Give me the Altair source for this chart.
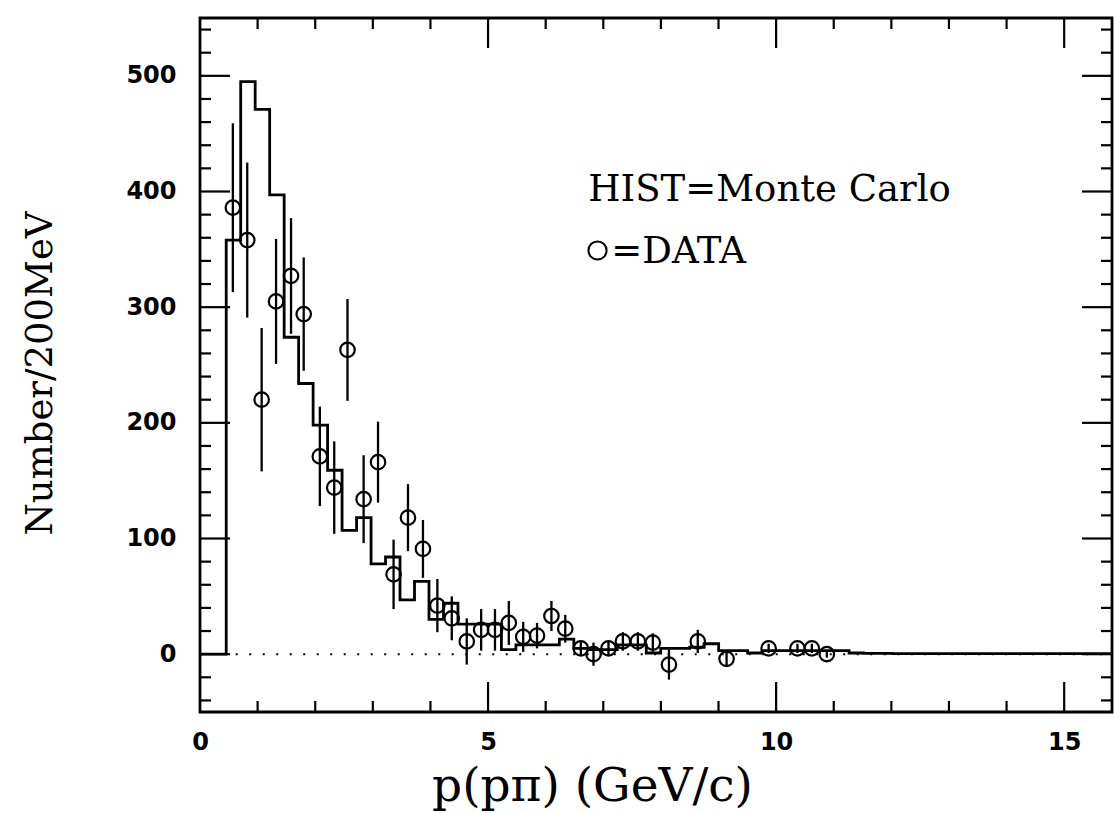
import altair as alt
import pandas as pd

# ---------------- data ----------------
# Monte Carlo histogram: regular bins, counts per bin
HIST_FIRST_EDGE = 0.455
HIST_BIN_WIDTH = 0.2514
hist_counts = [358, 495, 471, 397, 274, 234, 198, 159, 107, 118,
               78, 84, 47, 63, 30, 44, 26, 26, 26, 4,
               8, 8, 8, 13, 5, 4, 4, 8, 8, 1,
               5, 5, 6, 9, 3, 3, 1, 3, 3, 3,
               3, 3, 3, 1, 0.6, 0.6, 0.5, 0.5, 0.5, 0.5,
               0.5, 0.5, 0.5, 0.5, 0.5, 0.5, 0.5, 0.5, 0.5, 0.5,
               0.5, 0.5]

# DATA points with error bars
data_x = [0.57, 0.82, 1.07, 1.32, 1.58, 1.80, 2.08, 2.33, 2.56, 2.84,
          3.09, 3.36, 3.61, 3.87, 4.12, 4.37, 4.63, 4.88, 5.12, 5.36,
          5.61, 5.85, 6.10, 6.34, 6.61, 6.83, 7.09, 7.34, 7.60, 7.86,
          8.14, 8.64, 9.14, 9.87, 10.37, 10.62, 10.88]
data_y = [386, 358, 220, 305, 327, 294, 171, 144, 263, 134,
          166, 69, 118, 91, 42, 31, 11, 21, 21, 27,
          15, 16, 33, 22, 5, 0, 5, 11, 11, 10,
          -9, 11, -4, 5, 5, 5, 0]
data_err = [73, 67, 62, 54, 50, 49, 43, 40, 44, 38,
            35, 30, 29, 25, 23, 19, 20, 18, 18, 19,
            13, 11, 13, 12, 6, 10, 6, 8, 8, 8,
            13, 10, 7, 4, 4, 4, 3]

# axis ticks
x_labels = [0, 5, 10, 15]
x_major = [5, 10, 15]
x_minor = [1, 2, 3, 4, 6, 7, 8, 9, 11, 12, 13, 14]
y_labels = [0, 100, 200, 300, 400, 500]
y_major = [0, 100, 200, 300, 400, 500]
y_minor = [-40, -20, 20, 40, 60, 80, 120, 140, 160, 180, 220, 240, 260, 280,
           320, 340, 360, 380, 420, 440, 460, 480, 520, 540]

X_DOMAIN = [0, 15.83]
Y_DOMAIN = [-50, 550]
W, H = 912, 694

# ---------------- tables ----------------
edges = [HIST_FIRST_EDGE + i * HIST_BIN_WIDTH for i in range(len(hist_counts) + 1)]
hx = [0.0] + edges
hy = [0.0] + hist_counts + [hist_counts[-1]]
hist_df = pd.DataFrame({"x": hx, "y": hy})

pts_df = pd.DataFrame({"x": data_x, "y": data_y,
                       "lo": [v - e for v, e in zip(data_y, data_err)],
                       "hi": [v + e for v, e in zip(data_y, data_err)]})

xs = alt.Scale(domain=X_DOMAIN, nice=False, zero=False)
ys = alt.Scale(domain=Y_DOMAIN, nice=False, zero=False)

XA = alt.Axis(
    values=x_labels, ticks=False, domain=False, grid=False,
    labelFont="DejaVu Sans", labelFontSize=24, labelFontWeight="bold",
    labelColor="black", labelPadding=18, labelFlush=False,
    title="p(pπ) (GeV/c)", titleFont="DejaVu Serif", titleFontSize=47,
    titleFontWeight="normal", titleColor="black",
    titleX=392, titleY=88, titleAlign="center", titleBaseline="alphabetic")
YA = alt.Axis(
    values=y_labels, ticks=False, domain=False, grid=False,
    labelFont="DejaVu Sans", labelFontSize=24, labelFontWeight="bold",
    labelColor="black", labelPadding=24, labelFlush=False,
    title="Number/200MeV", titleFont="DejaVu Serif", titleFontSize=37,
    titleFontWeight="normal", titleColor="black", titleAngle=270,
    titleX=-160, titleY=355, titleAlign="center", titleBaseline="middle")


def X(field):
    return alt.X(field, scale=xs, axis=XA, title="p(pπ) (GeV/c)")


def Y(field):
    return alt.Y(field, scale=ys, axis=YA, title="Number/200MeV")


hist = alt.Chart(hist_df).mark_line(
    interpolate="step-after", color="black", strokeWidth=2.8, clip=True
).encode(x=X("x:Q"), y=Y("y:Q"))

zero_line = alt.Chart(pd.DataFrame({"x": [0.62], "x2": [X_DOMAIN[1]], "y": [0]})).mark_rule(
    color="black", strokeWidth=2, strokeDash=[2, 11.5]
).encode(x=X("x:Q"), x2="x2:Q", y=Y("y:Q"))

bars = alt.Chart(pts_df).mark_rule(color="black", strokeWidth=2.3).encode(
    x=X("x:Q"), y=Y("lo:Q"), y2="hi:Q")

circles = alt.Chart(pts_df).mark_point(
    shape="circle", filled=False, color="black", size=210, strokeWidth=2.2, opacity=1
).encode(x=X("x:Q"), y=Y("y:Q"))


def xticks(vals, length, top):
    df = pd.DataFrame({"v": vals})
    y0, y1 = (0, length) if top else (H, H - length)
    return alt.Chart(df).mark_rule(color="black", strokeWidth=2.2).encode(
        x=X("v:Q"), y=alt.value(y0), y2=alt.value(y1))


def yticks(vals, length, right):
    df = pd.DataFrame({"v": vals})
    x0, x1 = (W, W - length) if right else (0, length)
    return alt.Chart(df).mark_rule(color="black", strokeWidth=2.2).encode(
        y=Y("v:Q"), x=alt.value(x0), x2=alt.value(x1))


ticks = [xticks(x_major, 30, False), xticks(x_minor, 11, False),
         xticks(x_major, 30, True), xticks(x_minor, 11, True),
         yticks(y_major, 30, False), yticks(y_minor, 11, False),
         yticks(y_major, 30, True), yticks(y_minor, 11, True)]

ann_df = pd.DataFrame({"x": [6.74, 7.14], "y": [392, 338],
                       "t": ["HIST=Monte Carlo", "=DATA"]})
ann = alt.Chart(ann_df).mark_text(
    align="left", baseline="alphabetic", font="DejaVu Serif", fontSize=37, color="black"
).encode(x=X("x:Q"), y=Y("y:Q"), text="t:N")

ann_sym = alt.Chart(pd.DataFrame({"x": [6.9], "y": [349]})).mark_point(
    shape="circle", filled=False, color="black", size=330, strokeWidth=2, opacity=1
).encode(x=X("x:Q"), y=Y("y:Q"))

chart = alt.layer(hist, zero_line, bars, circles, *ticks, ann, ann_sym).properties(
    width=W, height=H,
    padding={"left": 200, "top": 18, "right": 2, "bottom": 101},
    autosize=alt.AutoSizeParams(type="none"),
    background="white",
).configure_view(stroke="black", strokeWidth=2.8).configure_axis(grid=False)

chart.save("out.html", embed_options={"renderer": "svg", "actions": False})
